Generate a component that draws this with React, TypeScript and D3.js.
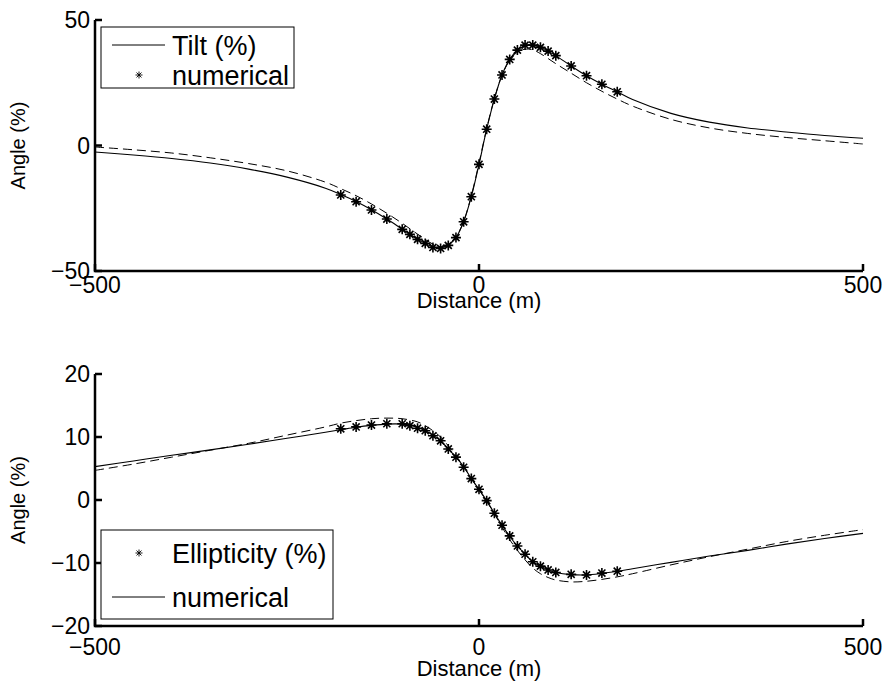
import React from "react";
import * as d3 from "d3";

// ---------- DATA ----------
const xTicks = [-500, 0, 500];
const tiltYTicks = [-50, 0, 50];
const ellYTicks = [-20, -10, 0, 10, 20];

// top panel: Tilt (solid)
const tiltLineX = [-500, -450, -400, -350, -300, -250, -200, -180, -160, -140, -120, -100, -80, -60, -50, -40, -30, -20, -10, 0, 10, 20, 30, 40, 50, 60, 70, 80, 90, 100, 120, 140, 160, 180, 200, 250, 300, 350, 400, 450, 500];
const tiltLineY = [-2.6, -3.8, -5.2, -7.0, -9.4, -12.6, -17.0, -19.5, -22.3, -25.6, -29.3, -33.3, -37.3, -40.4, -40.8, -39.7, -36.7, -30.4, -20.4, -7.5, 6.5, 18.5, 28.1, 34.3, 38.0, 39.8, 40.0, 39.1, 37.6, 35.8, 31.7, 27.8, 24.4, 21.4, 18.3, 12.8, 9.3, 7.0, 5.4, 4.0, 2.9];
// top panel: dashed reference
const tiltDashX = [-500, -450, -400, -350, -300, -250, -200, -180, -160, -140, -120, -100, -80, -60, -50, -40, -30, -20, -10, 0, 10, 20, 30, 40, 50, 60, 70, 80, 100, 120, 140, 160, 180, 200, 250, 300, 350, 400, 450, 500];
const tiltDashY = [-0.6, -1.7, -3.0, -4.9, -7.2, -10.1, -14.6, -17.2, -20.0, -23.3, -27.0, -31.0, -35.3, -39.3, -40.4, -39.6, -36.5, -30.2, -20.0, -7.0, 6.8, 18.7, 28.0, 33.9, 37.2, 38.4, 38.1, 36.6, 32.6, 28.8, 25.0, 21.6, 18.5, 15.7, 10.4, 7.0, 4.8, 3.2, 1.9, 0.6];
// top panel: numerical (asterisks)
const tiltPtsX = [-180, -160, -140, -120, -100, -90, -80, -70, -60, -50, -40, -30, -20, -10, 0, 10, 20, 30, 40, 50, 60, 70, 80, 90, 100, 120, 140, 160, 180];
const tiltPtsY = [-19.7, -22.4, -25.7, -29.3, -33.4, -35.4, -37.4, -39.0, -40.6, -41.0, -39.8, -36.7, -30.4, -20.4, -7.5, 6.5, 18.5, 28.1, 34.3, 38.0, 40.0, 40.0, 39.1, 37.6, 35.8, 31.7, 27.8, 24.4, 21.4];

// bottom panel: numerical (solid)
const ellLineX = [-500, -450, -400, -350, -300, -250, -200, -180, -160, -140, -120, -100, -90, -80, -70, -60, -50, -40, -30, -20, -10, 0, 10, 20, 30, 40, 50, 60, 70, 80, 90, 100, 120, 140, 160, 180, 200, 250, 300, 350, 400, 450, 500];
const ellLineY = [5.3, 6.2, 7.1, 7.95, 8.85, 9.8, 10.75, 11.15, 11.55, 11.85, 12.05, 12.05, 11.9, 11.5, 11.0, 10.3, 9.4, 8.1, 6.8, 5.3, 3.4, 1.7, -0.1, -2.1, -4.0, -5.8, -7.3, -8.6, -9.8, -10.5, -11.1, -11.5, -11.85, -11.9, -11.65, -11.3, -10.9, -9.9, -8.9, -8.0, -7.0, -6.1, -5.3];
// bottom panel: dashed reference
const ellDashX = [-500, -450, -400, -350, -300, -250, -200, -180, -160, -140, -120, -100, -80, -70, -60, -50, -40, -30, -20, -10, 0, 10, 20, 30, 40, 50, 60, 70, 80, 90, 100, 120, 140, 160, 180, 200, 250, 300, 350, 400, 450, 500];
const ellDashY = [4.7, 5.7, 6.8, 7.9, 9.0, 10.3, 11.6, 12.2, 12.6, 12.9, 13.0, 12.9, 12.4, 11.8, 11.0, 10.0, 8.6, 7.0, 5.3, 3.4, 1.6, -0.2, -2.2, -4.3, -6.3, -8.0, -9.5, -10.8, -11.7, -12.3, -12.7, -13.0, -12.9, -12.6, -12.2, -11.7, -10.3, -9.0, -7.8, -6.6, -5.6, -4.7];
// bottom panel: Ellipticity (asterisks)
const ellPtsX = [-180, -160, -140, -120, -100, -90, -80, -70, -60, -50, -40, -30, -20, -10, 0, 10, 20, 30, 40, 50, 60, 70, 80, 90, 100, 120, 140, 160, 180];
const ellPtsY = [11.3, 11.6, 11.9, 12.1, 12.1, 11.8, 11.4, 11.0, 10.2, 9.4, 8.1, 6.8, 5.2, 3.4, 1.7, -0.1, -2.1, -4.0, -5.7, -7.3, -8.6, -9.8, -10.5, -11.1, -11.5, -11.8, -11.9, -11.6, -11.3];

const FONT = "'Liberation Sans', Arial, Helvetica, sans-serif";
const fmt = (v: number) => (v < 0 ? "\u2212" + Math.abs(v) : String(v));

const W = 891;
const H = 690;
const LEFT = 95;
const RIGHT = 863;

type Pt = [number, number];
const zip = (xs: number[], ys: number[]): Pt[] => xs.map((x, i) => [x, ys[i]]);

function Star({ x, y, r, sw }: { x: number; y: number; r: number; sw: number }) {
  const d = r * Math.SQRT1_2;
  const p = `M${x - r},${y}L${x + r},${y}M${x},${y - r}L${x},${y + r}M${x - d},${y - d}L${x + d},${y + d}M${x - d},${y + d}L${x + d},${y - d}`;
  return <path d={p} stroke="#000" strokeWidth={sw} fill="none" />;
}

type LegendRow = { kind: "line" | "star"; label: string; cy: number };

function Panel({
  top,
  bottom,
  yDomain,
  yTicks,
  line,
  dash,
  pts,
  legend,
  tickBase,
  labelBase,
}: {
  top: number;
  bottom: number;
  yDomain: [number, number];
  yTicks: number[];
  line: Pt[];
  dash: Pt[];
  pts: Pt[];
  legend: { x: number; y: number; w: number; h: number; rows: LegendRow[] };
  tickBase: number;
  labelBase: number;
}) {
  const x = d3.scaleLinear().domain([-500, 500]).range([LEFT, RIGHT]);
  const y = d3.scaleLinear().domain(yDomain).range([bottom, top]);
  const gen = d3
    .line<Pt>()
    .x((d) => x(d[0]))
    .y((d) => y(d[1]))
    .curve(d3.curveCatmullRom.alpha(0.5));
  const tickLen = 7;
  return (
    <g>
      <path d={gen(dash) || ""} fill="none" stroke="#000" strokeWidth={1} strokeDasharray="9,5" />
      <path d={gen(line) || ""} fill="none" stroke="#000" strokeWidth={1.1} />
      {pts.map((p, i) => (
        <Star key={i} x={x(p[0])} y={y(p[1])} r={5} sw={1.6} />
      ))}
      {/* axes */}
      <path d={`M${LEFT},${top}V${bottom}H${RIGHT}`} fill="none" stroke="#000" strokeWidth={2.5} />
      {yTicks.map((t) => (
        <g key={"y" + t}>
          <line x1={LEFT} x2={LEFT + tickLen} y1={y(t)} y2={y(t)} stroke="#000" strokeWidth={2.5} />
          <text x={LEFT - 5} y={y(t)} dy="0.36em" textAnchor="end" fontFamily={FONT} fontSize={23}>
            {fmt(t)}
          </text>
        </g>
      ))}
      {xTicks.map((t) => (
        <g key={"x" + t}>
          <line x1={x(t)} x2={x(t)} y1={bottom} y2={bottom - tickLen} stroke="#000" strokeWidth={2.5} />
          <text x={x(t)} y={tickBase} textAnchor="middle" fontFamily={FONT} fontSize={23}>
            {fmt(t)}
          </text>
        </g>
      ))}
      <text x={x(0)} y={labelBase} textAnchor="middle" fontFamily={FONT} fontSize={22}>
        Distance (m)
      </text>
      <text
        transform={`translate(25,${(top + bottom) / 2}) rotate(-90)`}
        textAnchor="middle"
        fontFamily={FONT}
        fontSize={20}
      >
        Angle (%)
      </text>
      {/* legend */}
      <rect x={legend.x} y={legend.y} width={legend.w} height={legend.h} fill="#fff" stroke="#000" strokeWidth={1} />
      {legend.rows.map((r, i) => (
        <g key={i}>
          {r.kind === "line" ? (
            <line x1={legend.x + 11} x2={legend.x + 64} y1={r.cy} y2={r.cy} stroke="#000" strokeWidth={1} />
          ) : (
            <Star x={legend.x + 38} y={r.cy} r={3.5} sw={0.9} />
          )}
          <text x={legend.x + 71} y={r.cy} dy="0.36em" fontFamily={FONT} fontSize={27}>
            {r.label}
          </text>
        </g>
      ))}
    </g>
  );
}

export default function App() {
  return (
    <svg width={W} height={H} style={{ position: "absolute", left: 0, top: 0, background: "#fff" }}>
      <rect width={W} height={H} fill="#fff" />
      <Panel
        top={20}
        bottom={271}
        yDomain={[-50, 50]}
        yTicks={tiltYTicks}
        line={zip(tiltLineX, tiltLineY)}
        dash={zip(tiltDashX, tiltDashY)}
        pts={zip(tiltPtsX, tiltPtsY)}
        tickBase={293}
        labelBase={308}
        legend={{
          x: 101,
          y: 27,
          w: 193,
          h: 61,
          rows: [
            { kind: "line", label: "Tilt (%)", cy: 45 },
            { kind: "star", label: "numerical", cy: 75 },
          ],
        }}
      />
      <Panel
        top={374}
        bottom={626}
        yDomain={[-20, 20]}
        yTicks={ellYTicks}
        line={zip(ellLineX, ellLineY)}
        dash={zip(ellDashX, ellDashY)}
        pts={zip(ellPtsX, ellPtsY)}
        tickBase={655}
        labelBase={676}
        legend={{
          x: 101,
          y: 530,
          w: 232,
          h: 89,
          rows: [
            { kind: "star", label: "Ellipticity (%)", cy: 553 },
            { kind: "line", label: "numerical", cy: 597 },
          ],
        }}
      />
    </svg>
  );
}
